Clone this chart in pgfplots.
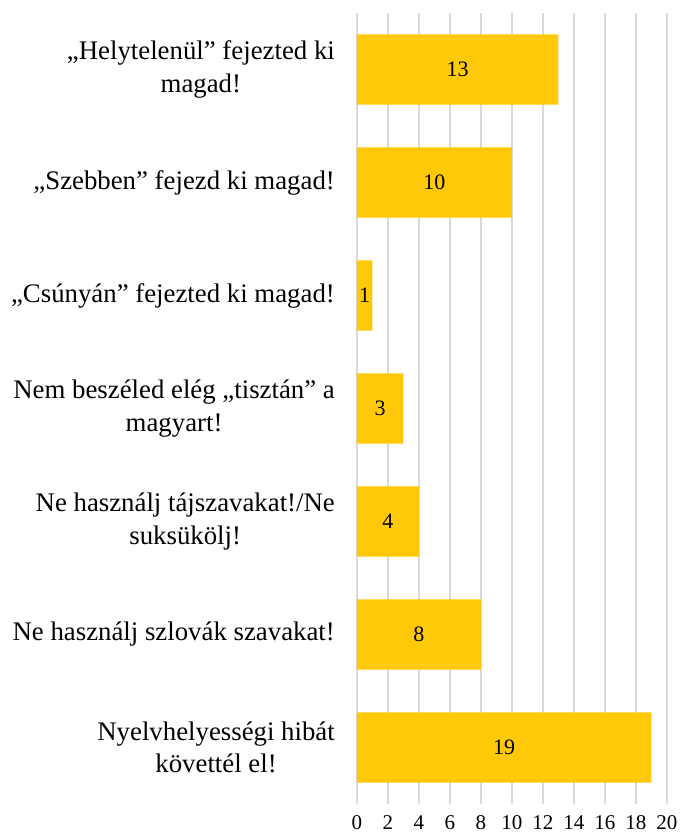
\documentclass[border=0pt]{standalone}
\usepackage{pgfplots}
\pgfplotsset{compat=1.18}
\usepackage{fontspec}
\setmainfont{Liberation Serif}
\definecolor{barc}{HTML}{FFC90A}
\definecolor{gridc}{HTML}{D9D9D9}
\begin{document}
\begin{tikzpicture}
\useasboundingbox (-357bp,-30bp) rectangle (324bp,804bp);
\begin{axis}[
  at={(0,0)}, anchor=south west,
  scale only axis, width=310bp, height=791bp,
  xmin=0, xmax=20, ymin=-0.5, ymax=6.5,
  xtick={0,2,...,20},
  ytick={0,1,2,3,4,5,6},
  yticklabels={
    {Nyelvhelyességi hibát\\követtél el!},
    {Ne használj szlovák szavakat!},
    {Ne használj tájszavakat!/Ne\\suksükölj!},
    {Nem beszéled elég „tisztán” a\\magyart!},
    {„Csúnyán” fejezted ki magad!},
    {„Szebben” fejezd ki magad!},
    {„Helytelenül” fejezted ki\\magad!}},
  axis line style={draw=none},
  major tick length=0pt,
  xmajorgrids, grid style={gridc, line width=1.5bp},
  /pgf/number format/assume math mode=true,
  xticklabel style={font=\fontsize{21bp}{25bp}\selectfont, inner sep=0pt, anchor=north, yshift=-11.5bp},
  yticklabel style={font=\fontsize{26.8bp}{32.5bp}\selectfont, align=center, inner sep=0pt, anchor=east, xshift=-22bp},
]
\addplot[xbar, bar width=0.62, fill=barc, draw=none]
  coordinates {(19,0) (8,1) (4,2) (3,3) (1,4) (10,5) (13,6)};
\addplot[draw=none, mark=none, nodes near coords, point meta=explicit symbolic,
  nodes near coords align={anchor=center},
  every node near coord/.append style={anchor=center, inner sep=0pt, font=\fontsize{22bp}{26bp}\selectfont}]
  coordinates {(9.5,0) [19] (4,1) [8] (2,2) [4] (1.5,3) [3] (0.5,4) [1] (5,5) [10] (6.5,6) [13]};
\end{axis}
\end{tikzpicture}
\end{document}
